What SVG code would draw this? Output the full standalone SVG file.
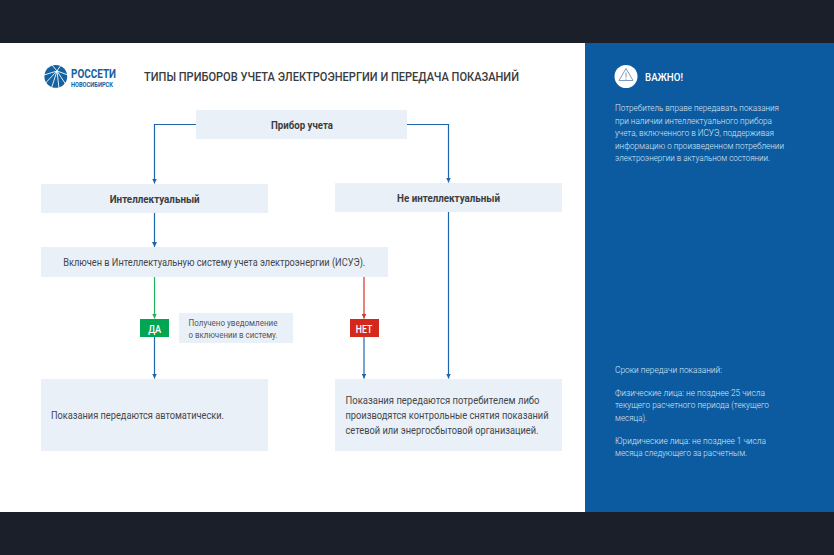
<svg xmlns="http://www.w3.org/2000/svg" width="834" height="555" viewBox="0 0 834 555">
<defs>
<style>
text{font-family:"Roboto","Liberation Sans",sans-serif}
.box{fill:#e9f0f7}
.b{font-weight:700;font-size:11px;fill:#3c3e42;text-anchor:middle}
.r{font-size:10.500px;fill:#44464a}
.w{font-size:9.200px;fill:#dbe7f3;font-weight:300}
.c{fill:none;stroke:#1d66ab;stroke-width:1.200}
</style>
<marker id="ab" markerUnits="userSpaceOnUse" markerWidth="6" markerHeight="5" refX="5" refY="2.500" orient="auto"><path d="M0 0L5 2.500L0 5Z" fill="#1d66ab"/></marker>
<marker id="ag" markerUnits="userSpaceOnUse" markerWidth="6" markerHeight="5" refX="5" refY="2.500" orient="auto"><path d="M0 0L5 2.500L0 5Z" fill="#1fb45f"/></marker>
<marker id="ar" markerUnits="userSpaceOnUse" markerWidth="6" markerHeight="5" refX="5" refY="2.500" orient="auto"><path d="M0 0L5 2.500L0 5Z" fill="#d4322a"/></marker>
</defs>
<rect width="834" height="555" fill="#1a1f29"/>
<rect y="43" width="585" height="469" fill="#fff"/>
<rect x="585" y="43" width="249" height="469" fill="#0c5ba1"/>
<g id="logo">
<circle cx="55.800" cy="76.400" r="11.400" fill="#14629f"/>
<path d="M57 71L44 75M57 71L45.500 83M57 71L51.500 88M57 71L59 88.500M57 71L65.500 84M57 71L68 75M57 71L61 65M57 71L52 65" stroke="#fff" stroke-width=".9" fill="none"/>
<text x="71" y="78" font-size="12.500" font-weight="700" fill="#14629f" textLength="45" lengthAdjust="spacingAndGlyphs">РОССЕТИ</text>
<text x="71" y="86.700" font-size="7" font-weight="700" fill="#14629f" textLength="42" lengthAdjust="spacingAndGlyphs">НОВОСИБИРСК</text>
</g>
<text id="title" x="144" y="81" font-size="13" font-weight="500" fill="#3a3c40" textLength="375" lengthAdjust="spacingAndGlyphs">ТИПЫ ПРИБОРОВ УЧЕТА ЭЛЕКТРОЭНЕРГИИ И ПЕРЕДАЧА ПОКАЗАНИЙ</text>
<g id="connectors">
<path class="c" d="M196 124.500H154.500V183.500" marker-end="url(#ab)"/>
<path class="c" d="M407 124.500H448.500V182.500" marker-end="url(#ab)"/>
<path class="c" d="M154.500 213V247" marker-end="url(#ab)"/>
<path class="c" d="M448.500 212V378.500" marker-end="url(#ab)"/>
<path d="M154.500 277V318.500" fill="none" stroke="#1fb45f" stroke-width="1.200" marker-end="url(#ag)"/>
<path d="M364 277V318.500" fill="none" stroke="#d4322a" stroke-width="1.200" marker-end="url(#ar)"/>
<path class="c" d="M154.500 337V378.500" marker-end="url(#ab)"/>
<path class="c" d="M364 337V378.500" marker-end="url(#ab)"/>
</g>
<g id="n-device"><rect class="box" x="196" y="110" width="211" height="29"/><text class="b" x="302" y="129" textLength="62" lengthAdjust="spacingAndGlyphs">Прибор учета</text></g>
<g id="n-smart"><rect class="box" x="41" y="184" width="227" height="29"/><text class="b" x="154.700" y="203" textLength="90" lengthAdjust="spacingAndGlyphs">Интеллектуальный</text></g>
<g id="n-notsmart"><rect class="box" x="335" y="183" width="227" height="29"/><text class="b" x="448.500" y="202" textLength="103" lengthAdjust="spacingAndGlyphs">Не интеллектуальный</text></g>
<g id="n-isue"><rect class="box" x="41" y="247" width="347" height="30"/><text class="r" x="63.300" y="266" textLength="302" lengthAdjust="spacingAndGlyphs">Включен в Интеллектуальную систему учета электроэнергии (ИСУЭ).</text></g>
<g id="n-yes"><rect x="140" y="319" width="29" height="18" fill="#00a651"/><text x="154.700" y="332.500" font-size="11" font-weight="500" fill="#fff" text-anchor="middle" textLength="13" lengthAdjust="spacingAndGlyphs">ДА</text></g>
<g id="n-no"><rect x="350" y="319" width="29" height="18" fill="#d4281c"/><text x="364" y="332.500" font-size="11" font-weight="500" fill="#fff" text-anchor="middle" textLength="16.500" lengthAdjust="spacingAndGlyphs">НЕТ</text></g>
<g id="n-notice"><rect class="box" x="179" y="313" width="114" height="30"/><text x="188.500" y="325.500" font-size="9.200" fill="#55575c" textLength="89" lengthAdjust="spacingAndGlyphs">Получено уведомление</text><text x="188.500" y="338" font-size="9.200" fill="#55575c" textLength="89" lengthAdjust="spacingAndGlyphs">о включении в систему.</text></g>
<g id="n-auto"><rect class="box" x="41" y="379" width="227" height="72"/><text class="r" x="51" y="419" textLength="173" lengthAdjust="spacingAndGlyphs">Показания передаются автоматически.</text></g>
<g id="n-manual"><rect class="box" x="335" y="379" width="227" height="72"/><text class="r" x="345.500" y="404" textLength="194" lengthAdjust="spacingAndGlyphs">Показания передаются потребителем либо</text><text class="r" x="345.500" y="419" textLength="203" lengthAdjust="spacingAndGlyphs">производятся контрольные снятия показаний</text><text class="r" x="345.500" y="434" textLength="193" lengthAdjust="spacingAndGlyphs">сетевой или энергосбытовой организацией.</text></g>
<g id="warning">
<circle cx="626" cy="76.500" r="11.500" fill="#fff"/>
<path d="M626 68.500L633 80.500H619Z" fill="none" stroke="#6f8fb0" stroke-width=".9" stroke-linejoin="round"/>
<path d="M626 72.500V77.500M626 78.500V79.700" stroke="#6f8fb0" stroke-width=".9"/>
<text x="645" y="81" font-size="11" font-weight="500" fill="#fff" textLength="38" lengthAdjust="spacingAndGlyphs">ВАЖНО!</text>
</g>
<g id="side">
<text class="w" x="615" y="111" textLength="164" lengthAdjust="spacingAndGlyphs">Потребитель вправе передавать показания</text>
<text class="w" x="615" y="123.500" textLength="157" lengthAdjust="spacingAndGlyphs">при наличии интеллектуального прибора</text>
<text class="w" x="615" y="136" textLength="159" lengthAdjust="spacingAndGlyphs">учета, включенного в ИСУЭ, поддерживая</text>
<text class="w" x="615" y="148.500" textLength="169" lengthAdjust="spacingAndGlyphs">информацию о произведенном потреблении</text>
<text class="w" x="615" y="161" textLength="155" lengthAdjust="spacingAndGlyphs">электроэнергии в актуальном состоянии.</text>
<text class="w" x="615" y="373" textLength="107" lengthAdjust="spacingAndGlyphs">Сроки передачи показаний:</text>
<text class="w" x="615" y="396" textLength="150" lengthAdjust="spacingAndGlyphs">Физические лица: не позднее 25 числа</text>
<text class="w" x="615" y="408" textLength="154" lengthAdjust="spacingAndGlyphs">текущего расчетного периода (текущего</text>
<text class="w" x="615" y="420.500" textLength="32" lengthAdjust="spacingAndGlyphs">месяца).</text>
<text class="w" x="615" y="443.500" textLength="151" lengthAdjust="spacingAndGlyphs">Юридические лица: не позднее 1 числа</text>
<text class="w" x="615" y="456" textLength="132" lengthAdjust="spacingAndGlyphs">месяца следующего за расчетным.</text>
</g>
</svg>
